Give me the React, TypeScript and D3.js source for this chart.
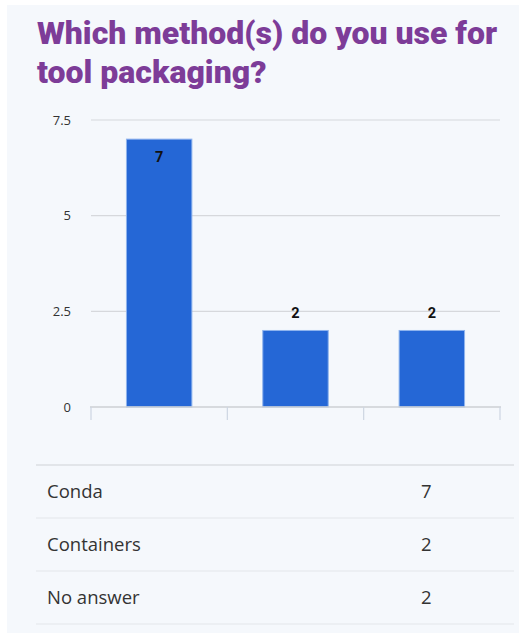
import React from "react";
import * as d3 from "d3";

const categories = ["Conda", "Containers", "No answer"];
const counts = [7, 2, 2];
const yTicks = [0, 2.5, 5, 7.5];
const yTickLabels = ["0", "2.5", "5", "7.5"];
const titleLines = ["Which method(s) do you use for", "tool packaging?"];

export default function App() {
  const W = 519, H = 633;
  const x = d3.scaleBand<string>().domain(categories).range([91, 500]).paddingInner(0.52).paddingOuter(0.26);
  const y = d3.scaleLinear().domain([0, 7.5]).range([407, 120]);
  const tickXs = [91, ...categories.map((c) => (x(c) as number) + x.bandwidth() / 2 + x.step() / 2)];
  const rowY = d3.scaleLinear().domain([0, 1]).range([465, 518]);
  return (
    <svg width={W} height={H} style={{ position: "absolute", left: 0, top: 0 }}>
      <rect x={7} y={5} width={W - 7} height={H - 5} fill="#f5f8fc" />
      {titleLines.map((t, i) => (
        <text key={i} x={37} y={44 + i * 39} fontFamily="Roboto" fontWeight={900} fontSize={32} fill="#7d3c98" textLength={i === 0 ? 460 : undefined}>
          {t}
        </text>
      ))}
      {yTicks.map((t, i) => (
        <g key={t}>
          {t !== 0 && <line x1={91} x2={500} y1={y(t)} y2={y(t)} stroke="#d6d8dc" strokeWidth={1.2} />}
          <text x={71} y={y(t)} dy="0.35em" textAnchor="end" fontFamily="Open Sans" fontSize={13} fill="#333">
            {yTickLabels[i]}
          </text>
        </g>
      ))}
      {categories.map((c, i) => {
        const bx = x(c) as number;
        const cx = bx + x.bandwidth() / 2;
        const inside = counts[i] > 4;
        return (
          <g key={c}>
            <rect x={bx} y={y(counts[i])} width={x.bandwidth()} height={407 - y(counts[i])} fill="#2567d6" stroke="#8fb4ee" strokeWidth={1} />
            <text x={cx} y={inside ? y(counts[i]) + 18 : y(counts[i]) - 18} dy="0.35em" textAnchor="middle" fontFamily="Roboto" fontWeight={700} fontSize={14.5} fill="#111">
              {counts[i]}
            </text>
          </g>
        );
      })}
      <line x1={90} x2={501} y1={407} y2={407} stroke="#cdd0d4" strokeWidth={1.5} />
      {tickXs.map((tx, i) => (
        <line key={i} x1={tx} x2={tx} y1={407} y2={420} stroke="#cdd6e2" strokeWidth={1.2} />
      ))}
      <line x1={36} x2={514} y1={465} y2={465} stroke="#cfd2d6" strokeWidth={1.2} />
      {categories.map((c, i) => {
        const top = rowY(i);
        const bot = rowY(i + 1);
        return (
          <g key={c}>
            <text x={47} y={(top + bot) / 2} dy="0.35em" fontFamily="Open Sans" fontSize={18.5} fill="#333">{c}</text>
            <text x={421} y={(top + bot) / 2} dy="0.35em" fontFamily="Open Sans" fontSize={18.5} fill="#333">{counts[i]}</text>
            <line x1={36} x2={514} y1={bot} y2={bot} stroke="#e3e6ea" strokeWidth={1} />
          </g>
        );
      })}
    </svg>
  );
}
